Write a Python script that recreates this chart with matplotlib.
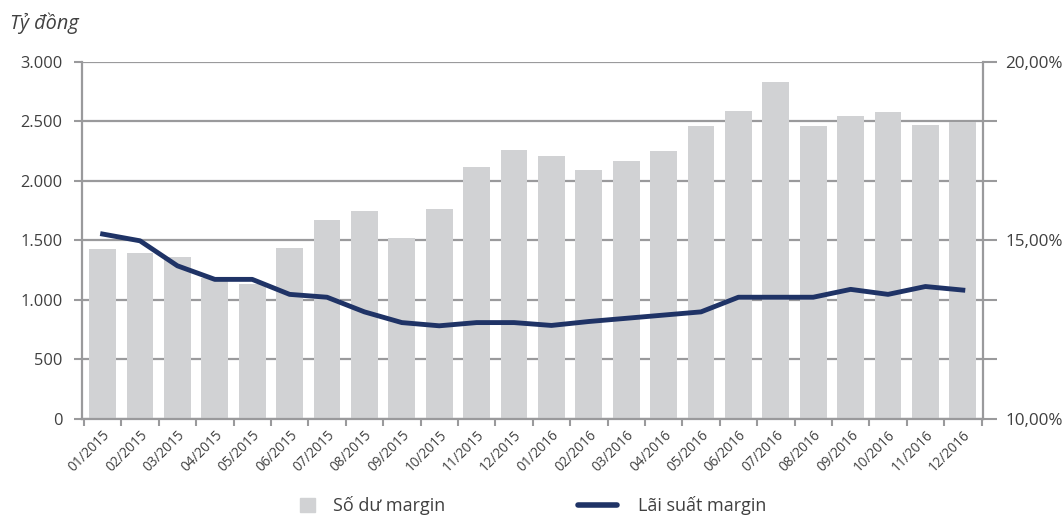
import numpy as np
import matplotlib.pyplot as plt
from matplotlib.ticker import FixedLocator, FuncFormatter
from matplotlib.patches import Patch

plt.rcParams['font.family'] = ['Open Sans', 'DejaVu Sans']

# data
thang = ['01/2015', '02/2015', '03/2015', '04/2015', '05/2015', '06/2015',
         '07/2015', '08/2015', '09/2015', '10/2015', '11/2015', '12/2015',
         '01/2016', '02/2016', '03/2016', '04/2016', '05/2016', '06/2016',
         '07/2016', '08/2016', '09/2016', '10/2016', '11/2016', '12/2016']
so_du = [1428, 1398, 1361, 1185, 1134, 1437, 1672, 1748, 1521, 1765, 2118, 2261,
         2210, 2092, 2168, 2252, 2462, 2588, 2832, 2462, 2546, 2580, 2471, 2498]
lai_suat = [15.18, 14.99, 14.29, 13.91, 13.91, 13.49, 13.41, 13.00, 12.70, 12.61, 12.70, 12.70,
            12.62, 12.73, 12.82, 12.91, 13.00, 13.41, 13.41, 13.41, 13.63, 13.49, 13.71, 13.61]

grey = '#9a9a9c'
txt = '#404040'
bar_col = '#d1d2d4'
line_col = '#1f3366'

fig = plt.figure(figsize=(10.64, 5.16), dpi=100)
ax = fig.add_axes([0.0771, 0.188, 0.8468, 0.692])
x = np.arange(len(thang))

ax.bar(x, so_du, width=0.72, color=bar_col, zorder=2)
ax.set_xlim(-0.55, len(thang) - 0.46)
ax.set_ylim(0, 3000)
ax.set_yticks(np.arange(0, 3001, 500))
ax.yaxis.set_major_formatter(FuncFormatter(lambda v, p: f'{int(v):,}'.replace(',', '.')))
ax.grid(axis='y', color=grey, linewidth=1.6, zorder=0)
ax.set_axisbelow(True)

ax.xaxis.set_major_locator(FixedLocator(x))
ax.set_xticklabels(thang, rotation=45, ha='right', rotation_mode='anchor', fontsize=9.8, color=txt)
ax.xaxis.set_minor_locator(FixedLocator(np.arange(-0.5, len(thang), 1)))
ax.tick_params(axis='x', which='major', length=0, pad=6)
ax.tick_params(axis='x', which='minor', length=5, color=grey, width=1.5)
ax.tick_params(axis='y', length=6, color=grey, width=1.5, labelsize=11.8, labelcolor=txt, pad=8)

for s in ['top', 'right']:
    ax.spines[s].set_visible(False)
for s in ['left', 'bottom']:
    ax.spines[s].set_color(grey)
    ax.spines[s].set_linewidth(1.6)

ax2 = ax.twinx()
ax2.plot(x, lai_suat, color=line_col, linewidth=3.5, zorder=3)
ax2.set_ylim(10, 20)
ax2.set_yticks(np.linspace(10, 20, 7))
ax2.yaxis.set_major_formatter(FuncFormatter(
    lambda v, p: (f'{v:.2f}'.replace('.', ',') + '%') if abs(v - round(v / 5) * 5) < 1e-6 else ''))
ax2.tick_params(axis='y', length=10, color=grey, width=1.5, labelsize=12.3, labelcolor=txt, pad=6)
for s in ['top', 'left', 'bottom']:
    ax2.spines[s].set_visible(False)
ax2.spines['right'].set_color(grey)
ax2.spines['right'].set_linewidth(1.6)

fig.text(0.009, 0.955, 'Tỷ đồng', fontsize=14.3, style='italic', color=txt, va='center')

# legend, two separate pieces as in the reference
leg1 = fig.legend([Patch(color=bar_col)], ['Số dư margin'], loc='center left',
                  bbox_to_anchor=(300 / 1064, 0.0194), frameon=False, fontsize=13, labelcolor=txt,
                  borderpad=0, borderaxespad=0, handlelength=0.83, handleheight=0.83, handletextpad=1.0)
fig.legend([plt.Line2D([], [], color=line_col, linewidth=4, solid_capstyle='round')], ['Lãi suất margin'],
           loc='center left', bbox_to_anchor=(578 / 1064, 0.0194), frameon=False, fontsize=13,
           labelcolor=txt, borderpad=0, borderaxespad=0, handlelength=2.17, handletextpad=1.17)

plt.savefig('out.png', dpi=100)
